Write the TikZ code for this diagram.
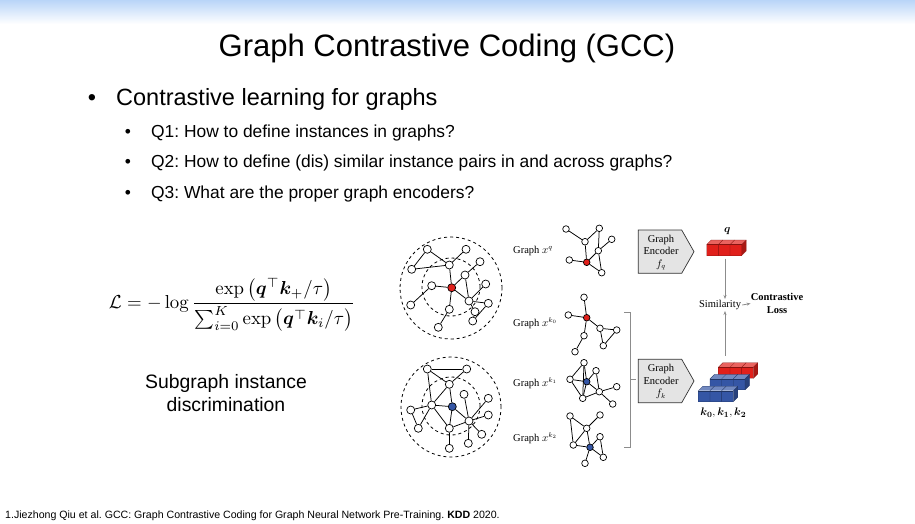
\documentclass[tikz,border=0pt]{standalone}
\usepackage{amsmath,amssymb,bm}
\usepackage[no-math]{fontspec}
\setmainfont{Liberation Sans}
\newfontfamily\timesfont{Liberation Serif}
\usetikzlibrary{positioning,arrows.meta}
\usepackage{xcolor}
\frenchspacing

\definecolor{qred}{HTML}{E0201B}
\definecolor{kblue}{HTML}{3556A5}
\definecolor{encgray}{HTML}{E4E4E4}
\definecolor{topblue}{HTML}{B9D5F8}
\definecolor{linegray}{HTML}{8C8C8C}

% 3d feature vector: x, y (front top left), colour
\newcommand{\vecbox}[3]{%
  \fill[#3!70!white] (#1,#2) -- ({#1+4.5},{#2-4.5}) -- ({#1+39.5},{#2-4.5}) -- ({#1+35},#2) -- cycle;
  \fill[#3!75!black] ({#1+35},#2) -- ({#1+39.5},{#2-4.5}) -- ({#1+39.5},{#2+6.5}) -- ({#1+35},{#2+11}) -- cycle;
  \fill[#3] (#1,#2) rectangle ({#1+35},{#2+11});
  \foreach \cc in {0,1,2,3}
    \draw[#3!60!black, line width=0.3pt] ({#1+\cc*35/3},{#2+11}) -- ({#1+\cc*35/3},#2) -- ({#1+\cc*35/3+4.5},{#2-4.5});
  \draw[#3!60!black, line width=0.3pt] (#1,{#2+11}) -- ({#1+35},{#2+11}) -- ({#1+39.5},{#2+6.5}) -- ({#1+39.5},{#2-4.5}) -- ({#1+4.5},{#2-4.5});
  \draw[#3!60!black, line width=0.3pt] (#1,#2) -- ({#1+35},#2);
}

\begin{document}
\begin{tikzpicture}[x=1pt, y=-1pt,
  vtx/.style = {draw, circle, fill=white, inner sep=0pt, minimum size=8pt, line width=0.7pt},
  svtx/.style = {vtx, minimum size=6.6pt},
  edge/.style = {line width=0.75pt},
  ring/.style = {dashed, line width=0.8pt},
  glabel/.style = {font=\timesfont\fontsize{10.5}{12}\selectfont, anchor=west, inner sep=0pt},
  enc/.style = {draw=black!80, fill=encgray, line width=0.7pt},
  enctext/.style = {font=\timesfont\fontsize{10.5}{12.5}\selectfont, align=center, inner sep=0pt},
  gline/.style = {draw=linegray, line width=0.8pt},
  >={Stealth[length=4pt, width=3pt]}]

\useasboundingbox (0,0) rectangle (915,523);
\fill[white] (0,0) rectangle (915,523);
\shade[top color=topblue, bottom color=white] (0,0) rectangle (915,24);

% slide text
\node[anchor=base, font=\fontsize{31}{36}\selectfont] (title) at (447,56) {Graph Contrastive Coding (GCC)};
\node[anchor=base, font=\fontsize{23.5}{28}\selectfont] (b0) at (92,105.5) {•};
\node[anchor=base west, inner sep=0pt, font=\fontsize{23.5}{28}\selectfont] (t0) at (116,105.5) {Contrastive learning for graphs};
\node[anchor=base, font=\fontsize{17.4}{21}\selectfont] (b1) at (128,137) {•};
\node[anchor=base west, inner sep=0pt, font=\fontsize{17.4}{21}\selectfont] (t1) at (151,137) {Q1: How to define instances in graphs?};
\node[anchor=base, font=\fontsize{17.4}{21}\selectfont] (b2) at (128,167) {•};
\node[anchor=base west, inner sep=0pt, font=\fontsize{17.4}{21}\selectfont] (t2) at (151,167) {Q2: How to define (dis) similar instance pairs in and across graphs?};
\node[anchor=base, font=\fontsize{17.4}{21}\selectfont] (b3) at (128,198) {•};
\node[anchor=base west, inner sep=0pt, font=\fontsize{17.4}{21}\selectfont] (t3) at (151,198) {Q3: What are the proper graph encoders?};

\node[scale=1.88, inner sep=0pt] (loss eq) at (232,305) {$\displaystyle \mathcal{L} = -\log \frac{\exp\big(\bm{q}^{\top}\bm{k}_{+}/\tau\big)}{\sum_{i=0}^{K}\exp\big(\bm{q}^{\top}\bm{k}_{i}/\tau\big)}$};
\node[align=center, font=\fontsize{19.4}{23}\selectfont] (disc) at (226,393) {Subgraph instance\\discrimination};
\node[anchor=base west, inner sep=0pt, font=\fontsize{10.6}{12}\selectfont] (ref) at (5,518) {1.Jiezhong Qiu et al. GCC: Graph Contrastive Coding for Graph Neural Network Pre-Training. \textbf{KDD} 2020.};

% big graphs with ego rings
\draw[ring] (451,288) circle [radius=51pt];
\draw[ring] (451,287) circle [radius=29pt];
\draw[ring] (451,407) circle [radius=50pt];
\draw[ring] (451,406) circle [radius=29pt];

\node[vtx, fill=qred] (A0) at (451.7,287.7) {};
\foreach \n/\x/\y in {1/427.3/249.3, 2/466/249.3, 3/411.7/269.3, 4/449.3/265, 5/480/261.7, 6/465/275, 7/431.7/285.7, 8/485.7/284, 9/469/301, 10/488.3/303.3, 11/410.7/305, 12/449.3/309.3, 13/475/311.7, 14/472.7/321, 15/438.3/327.3}
  \node[vtx] (A\n) at (\x,\y) {};
\foreach \a/\b in {1/3, 1/4, 3/4, 2/4, 4/0, 5/6, 6/0, 7/0, 11/7, 0/12, 12/15, 0/9, 6/9, 9/8, 9/10, 9/13, 10/14, 13/14}
  \draw[edge] (A\a) -- (A\b);

\node[vtx, fill=kblue] (B0) at (452.3,406.7) {};
\foreach \n/\x/\y in {1/427.3/369, 2/466.7/369, 3/449.3/384.3, 4/431.7/405, 5/464/394.3, 6/488.3/398.3, 7/488.3/415, 8/469/421, 9/410.7/410, 10/418.3/428.3, 11/449.3/428.3, 12/481.7/434.3, 13/468.3/443.3, 14/449.3/448.3}
  \node[vtx] (B\n) at (\x,\y) {};
\foreach \a/\b in {1/2, 1/3, 2/3, 1/4, 3/4, 3/0, 4/0, 4/9, 9/10, 10/4, 4/11, 0/11, 0/8, 5/8, 8/6, 8/7, 8/12, 8/13, 11/8, 11/14}
  \draw[edge] (B\a) -- (B\b);

% sampled subgraphs
\node[svtx, fill=qred] (Q0) at (586.7,262.3) {};
\foreach \n/\x/\y in {1/566/229, 2/599.3/228.3, 3/585/241.7, 4/611.7/239.3, 5/598.3/250.7, 6/569.3/260, 7/601.7/272.7}
  \node[svtx] (Q\n) at (\x,\y) {};
\foreach \a/\b in {1/3, 3/2, 2/5, 5/7, 4/5, 3/0, 5/0, 6/0, 0/7}
  \draw[edge] (Q\a) -- (Q\b);

\node[svtx, fill=qred] (K0) at (586.7,317.7) {};
\foreach \n/\x/\y in {1/584/297.3, 2/568.3/315, 3/600/328.3, 4/616.7/330, 5/603.3/345.7, 6/584/335.7, 7/575/351.7}
  \node[svtx] (K\n) at (\x,\y) {};
\foreach \a/\b in {1/0, 2/0, 0/3, 3/4, 4/5, 3/5, 0/6, 6/7}
  \draw[edge] (K\a) -- (K\b);

\node[svtx, fill=kblue] (L0) at (586.7,381.7) {};
\foreach \n/\x/\y in {1/584/362.7, 2/596/370.7, 3/570/379.3, 4/599.3/391.7, 5/616.7/386.7, 6/582.7/398.3, 7/612.7/404}
  \node[svtx] (L\n) at (\x,\y) {};
\foreach \a/\b in {1/3, 1/0, 1/6, 3/0, 3/6, 0/2, 2/4, 0/4, 0/6, 6/4, 4/5, 4/7}
  \draw[edge] (L\a) -- (L\b);

\node[svtx, fill=kblue] (M0) at (590,447.3) {};
\foreach \n/\x/\y in {1/570/416, 2/600/415, 3/586.7/428.3, 4/600/436.7, 5/573.3/445, 6/603.3/457.3, 7/585/463.3}
  \node[svtx] (M\n) at (\x,\y) {};
\foreach \a/\b in {1/3, 1/5, 2/3, 3/5, 3/0, 5/0, 0/4, 4/6, 0/6, 0/7}
  \draw[edge] (M\a) -- (M\b);

\node[glabel] (gq) at (513,251) {Graph $x^{q}$};
\node[glabel] (gk0) at (513,323) {Graph $x^{k_0}$};
\node[glabel] (gk1) at (513,383) {Graph $x^{k_1}$};
\node[glabel] (gk2) at (513,438) {Graph $x^{k_2}$};

% bracket for the keys
\draw[gline] (624,312) -- (630,312) -- (630,447) -- (624,447);
\draw[gline] (630,379) -- (636,379);

% encoders
\draw[enc] (638.3,230) -- (681.7,230) -- (694,251.7) -- (681.7,273.3) -- (638.3,273.3) -- cycle;
\node[enctext] (encq) at (661,252.5) {Graph\\Encoder\\$f_q$};
\draw[enc] (638.3,359.3) -- (681.7,359.3) -- (694,381) -- (681.7,402.7) -- (638.3,402.7) -- cycle;
\node[enctext] (enck) at (661,381.5) {Graph\\Encoder\\$f_k$};

% embeddings
\vecbox{706.7}{244.5}{qred}
\vecbox{718.3}{367.3}{qred}
\vecbox{710}{378.8}{kblue}
\vecbox{698.3}{390.7}{kblue}
\node[font=\fontsize{11}{13}\selectfont] (qlab) at (727.3,231) {$\bm{q}$};
\node[font=\fontsize{11}{13}\selectfont] (klab) at (723.3,413) {$\bm{k_0},\bm{k_1},\bm{k_2}$};

% similarity and loss
\node[font=\timesfont\fontsize{10.5}{12.5}\selectfont, inner sep=1pt] (sim) at (720,305) {Similarity};
\node[font=\timesfont\bfseries\fontsize{10.5}{12.5}\selectfont, align=center, inner sep=0pt] (loss) at (777,303.5) {Contrastive\\Loss};
\coordinate (qbot) at (725,258.5);
\coordinate (ktop) at (725,355.5);
\draw[gline, ->] (qbot) -- (qbot |- sim.north);
\draw[gline, ->] (ktop) -- (ktop |- sim.south);
\draw[gline, ->] (sim.east) -- (loss.west);

\end{tikzpicture}
\end{document}
